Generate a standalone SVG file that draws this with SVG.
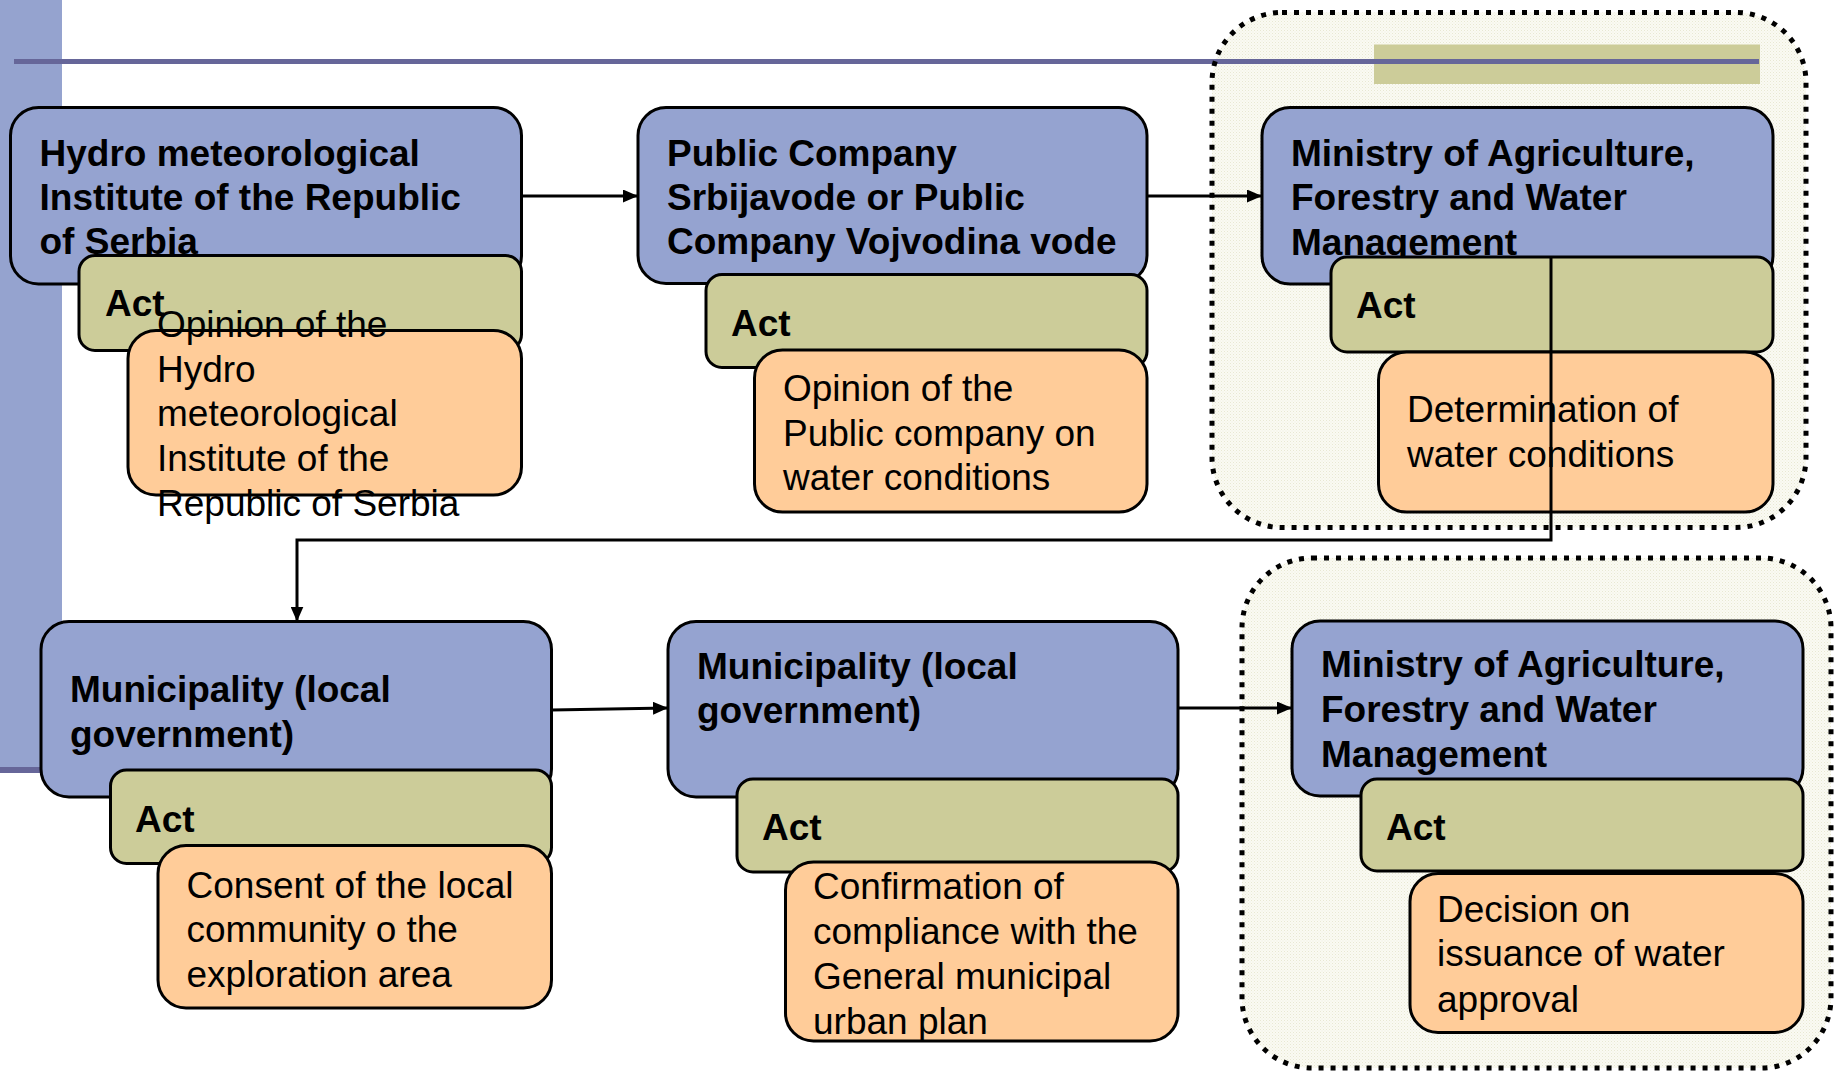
<svg xmlns="http://www.w3.org/2000/svg" width="1836" height="1071" viewBox="0 0 1836 1071">
<style>
text{font-family:"Liberation Sans",Arial,sans-serif;font-size:37px;fill:#000}
.t{font-weight:bold}
.a{font-weight:bold}
.blue{fill:#95A3D0;stroke:#000;stroke-width:3}
.act{fill:#CCCC99;stroke:#000;stroke-width:3}
.org{fill:#FFCC99;stroke:#000;stroke-width:3}
.cont{fill:url(#grain);stroke:none}
.dots{fill:none;stroke:#000;stroke-width:5;stroke-dasharray:5 7}
.conn{fill:none;stroke:#000;stroke-width:3}
</style>
<defs>
<pattern id="grain" patternUnits="userSpaceOnUse" width="3" height="3">
<rect width="3" height="3" fill="#FAFAF3"/>
<rect width="1" height="1" fill="#E8E8D2"/>
<rect x="1.5" y="1.5" width="1" height="1" fill="#EEEEDD"/>
</pattern>
<marker id="arr" markerUnits="userSpaceOnUse" markerWidth="15" markerHeight="13" refX="15" refY="6.5" orient="auto">
<path d="M0,0 L15,6.5 L0,13 z" fill="#000"/>
</marker>
</defs>
<rect x="0" y="0" width="1836" height="1071" fill="#fff"/>
<g id="background">
<rect x="0" y="0" width="62" height="767" fill="#95A3CF"/>
<rect x="0" y="767" width="62" height="6" fill="#666699"/>
</g>
<g id="containers">
<rect class="cont" x="1212" y="12.5" width="594" height="515" rx="70"/>
<rect class="cont" x="1242" y="558" width="589" height="510" rx="70"/>
</g>
<g id="header">
<rect x="1374" y="44.5" width="386" height="39.5" fill="#CCCC99"/>
<rect x="14" y="59" width="1745" height="5" fill="#666699"/>
</g>
<g id="container-borders">
<rect class="dots" x="1212" y="12.5" width="594" height="515" rx="70"/>
<rect class="dots" x="1242" y="558" width="589" height="510" rx="70"/>
</g>
<g id="node1">
<rect class="blue" x="10.5" y="107.5" width="511" height="176.5" rx="28"/>
<text class="t"><tspan x="39.5" y="166">Hydro meteorological</tspan><tspan x="39.5" y="210">Institute of the Republic</tspan><tspan x="39.5" y="254">of Serbia</tspan></text>
<rect class="act" x="79" y="255.5" width="442.5" height="95" rx="16"/>
<text class="a" x="105" y="316">Act</text>
<rect class="org" x="128" y="330.5" width="393.5" height="164.5" rx="28"/>
<text><tspan x="157" y="337">Opinion of the</tspan><tspan x="157" y="381.5">Hydro</tspan><tspan x="157" y="426">meteorological</tspan><tspan x="157" y="471">Institute of the</tspan><tspan x="157" y="516">Republic of Serbia</tspan></text>
</g>
<g id="node2">
<rect class="blue" x="638" y="107.5" width="509" height="176" rx="28"/>
<text class="t"><tspan x="667" y="166">Public Company</tspan><tspan x="667" y="210">Srbijavode or Public</tspan><tspan x="667" y="254">Company Vojvodina vode</tspan></text>
<rect class="act" x="706" y="274.5" width="441" height="93" rx="16"/>
<text class="a" x="731" y="336">Act</text>
<rect class="org" x="754.5" y="350" width="392.5" height="162" rx="28"/>
<text><tspan x="783" y="401">Opinion of the</tspan><tspan x="783" y="445.5">Public company on</tspan><tspan x="783" y="490">water conditions</tspan></text>
</g>
<g id="node3">
<rect class="blue" x="1262" y="107.5" width="511" height="176.5" rx="28"/>
<text class="t"><tspan x="1291" y="166">Ministry of Agriculture,</tspan><tspan x="1291" y="210">Forestry and Water</tspan><tspan x="1291" y="254.5">Management</tspan></text>
<rect class="act" x="1331" y="257" width="442" height="95" rx="16"/>
<text class="a" x="1356" y="318">Act</text>
<rect class="org" x="1378.5" y="352" width="394.5" height="160" rx="28"/>
<text><tspan x="1407" y="422">Determination of</tspan><tspan x="1407" y="467">water conditions</tspan></text>
</g>
<g id="node4">
<rect class="blue" x="41" y="621.5" width="510.5" height="175.5" rx="28"/>
<text class="t"><tspan x="70" y="702">Municipality (local</tspan><tspan x="70" y="747">government)</tspan></text>
<rect class="act" x="110.5" y="770" width="441" height="93.5" rx="16"/>
<text class="a" x="135" y="832">Act</text>
<rect class="org" x="158" y="845.5" width="393.5" height="162.5" rx="28"/>
<text><tspan x="186.5" y="897.5">Consent of the local</tspan><tspan x="186.5" y="942">community o the</tspan><tspan x="186.5" y="986.5">exploration area</tspan></text>
</g>
<g id="node5">
<rect class="blue" x="668" y="621.5" width="510" height="175.5" rx="28"/>
<text class="t"><tspan x="697" y="678.5">Municipality (local</tspan><tspan x="697" y="723">government)</tspan></text>
<rect class="act" x="737" y="779" width="441" height="93" rx="16"/>
<text class="a" x="762" y="840">Act</text>
<rect class="org" x="785.5" y="862" width="392.5" height="179" rx="28"/>
<text><tspan x="813" y="898.5">Confirmation of</tspan><tspan x="813" y="943.5">compliance with the</tspan><tspan x="813" y="988.5">General municipal</tspan><tspan x="813" y="1033.5">urban plan</tspan></text>
</g>
<g id="node6">
<rect class="blue" x="1292" y="621" width="511" height="175" rx="28"/>
<text class="t"><tspan x="1321" y="677">Ministry of Agriculture,</tspan><tspan x="1321" y="721.5">Forestry and Water</tspan><tspan x="1321" y="766.5">Management</tspan></text>
<rect class="act" x="1361" y="779" width="442" height="92" rx="16"/>
<text class="a" x="1386" y="840">Act</text>
<rect class="org" x="1410" y="873.5" width="393" height="159" rx="28"/>
<text><tspan x="1437" y="921.5">Decision on</tspan><tspan x="1437" y="966">issuance of water</tspan><tspan x="1437" y="1011.5">approval</tspan></text>
</g>
<g id="connectors">
<path class="conn" d="M521.5,196 H638" marker-end="url(#arr)"/>
<path class="conn" d="M1147,196 H1262" marker-end="url(#arr)"/>
<path class="conn" d="M1551,257 V540 H297 V621.5" marker-end="url(#arr)"/>
<path class="conn" d="M551.5,710 L668,708" marker-end="url(#arr)"/>
<path class="conn" d="M1178,708 H1292" marker-end="url(#arr)"/>
</g>
</svg>
